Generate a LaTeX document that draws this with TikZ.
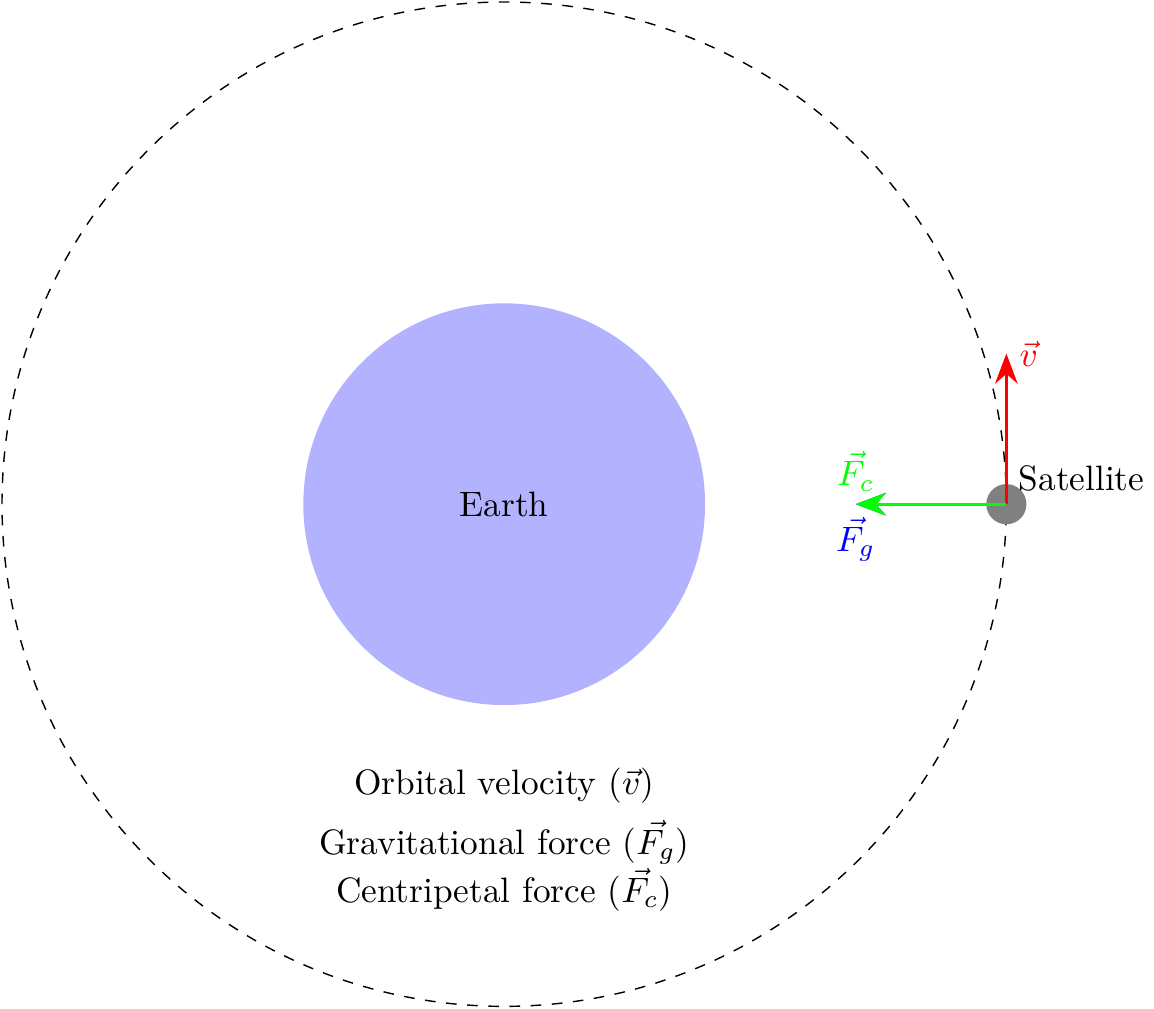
\documentclass[tikz,border=0pt]{standalone}
\usepackage{amssymb}
\usepackage{tikz}
\usetikzlibrary{shapes, arrows.meta}

\begin{document}
\begin{tikzpicture}[force/.style={-{Stealth[length=3mm]}, thick}]
		\useasboundingbox (-5.02,-5.02) rectangle (6.47,5.02);
		\draw[dashed] (0,0) circle (5);
		\node (earth) [circle, fill=blue!30, minimum size=4cm, inner sep=0pt] at (0,0) {Earth};
		\node (sat) [circle, fill=gray, minimum size=0.4cm, inner sep=0pt] at (5,0) {};
		\node (satlabel) [above right] at (sat.center) {Satellite};
		\coordinate (vtip) at (5,1.5);
		\coordinate (ftip) at (3.5,0);
		\draw[force, red]   (sat.center) -- (vtip) node [right] {$\vec{v}$};
		\draw[force, blue]  (sat.center) -- (ftip) node [below] {$\vec{F_g}$};
		\draw[force, green] (sat.center) -- (ftip) node [above] {$\vec{F_c}$};
		\node (lv) at (0,-2.8) {Orbital velocity ($\vec{v}$)};
		\node (lf) [align=center] at (0,-3.6) {Gravitational force ($\vec{F_g}$) \\ Centripetal force ($\vec{F_c}$)};
		\end{tikzpicture}
\end{document}
